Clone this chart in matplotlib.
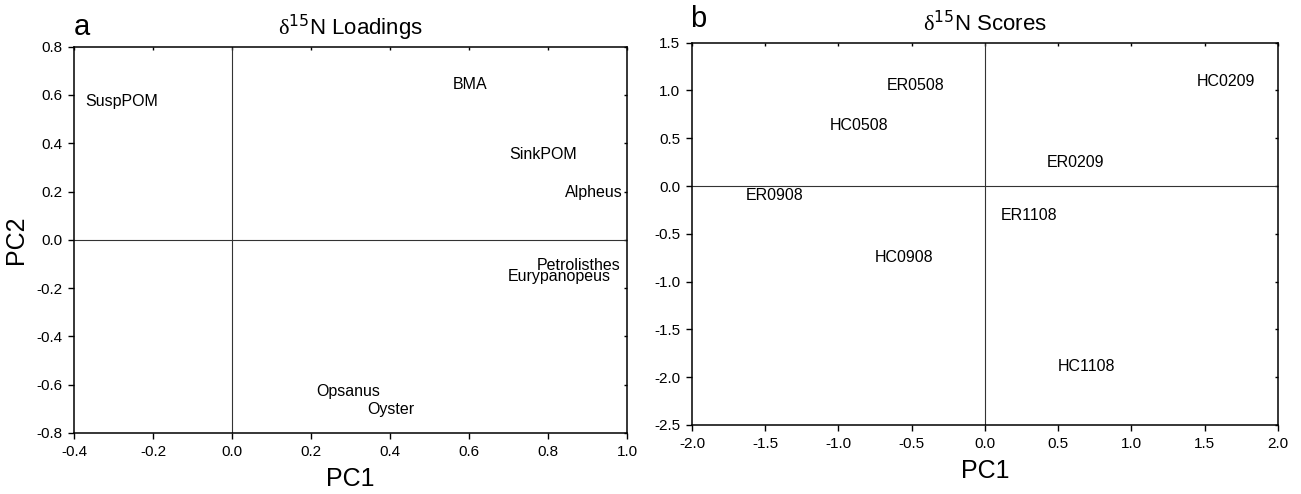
import matplotlib
matplotlib.use("Agg")
import matplotlib.pyplot as plt
from matplotlib.ticker import FormatStrFormatter

plt.rcParams['font.family'] = ['Liberation Sans', 'DejaVu Sans']
plt.rcParams['mathtext.fontset'] = 'custom'
plt.rcParams['mathtext.rm'] = 'Liberation Serif'

# loadings (panel a)
load_names = ['SuspPOM', 'BMA', 'SinkPOM', 'Alpheus', 'Petrolisthes',
              'Eurypanopeus', 'Opsanus', 'Oyster']
load_pc1 = [-0.279, 0.602, 0.787, 0.915, 0.878, 0.828, 0.293, 0.403]
load_pc2 = [0.572, 0.645, 0.354, 0.195, -0.108, -0.152, -0.628, -0.703]

# scores (panel b)
score_names = ['ER0508', 'HC0508', 'HC0209', 'ER0209', 'ER0908', 'ER1108',
               'HC0908', 'HC1108']
score_pc1 = [-0.476, -0.858, 1.643, 0.618, -1.433, 0.303, -0.55, 0.69]
score_pc2 = [1.056, 0.631, 1.098, 0.244, -0.094, -0.31, -0.747, -1.886]

load_xticks = [-0.4, -0.2, 0.0, 0.2, 0.4, 0.6, 0.8, 1.0]
load_yticks = [-0.8, -0.6, -0.4, -0.2, 0.0, 0.2, 0.4, 0.6, 0.8]
score_xticks = [-2.0, -1.5, -1.0, -0.5, 0.0, 0.5, 1.0, 1.5, 2.0]
score_yticks = [-2.5, -2.0, -1.5, -1.0, -0.5, 0.0, 0.5, 1.0, 1.5]

fig = plt.figure(figsize=(13.01, 4.94), dpi=100)
ax1 = fig.add_axes([0.0569, 0.1235, 0.4251, 0.782])
ax2 = fig.add_axes([0.5319, 0.1397, 0.4504, 0.7739])


def style(ax):
    for s in ax.spines.values():
        s.set_linewidth(1.1)
    ax.axhline(0, color='#333333', lw=0.8)
    ax.axvline(0, color='#333333', lw=0.8)
    ax.tick_params(direction='out', length=4, width=1.0, labelsize=11,
                   colors='black', pad=4.5)
    # faint inner ticks on top/right
    ax.tick_params(which='major', top=True, right=True, labeltop=False,
                   labelright=False)
    for t in ax.xaxis.get_major_ticks():
        t.tick2line.set_markersize(2.5)
        t.tick2line.set_color('#999999')
        t.tick2line.set_marker(3)
    for t in ax.yaxis.get_major_ticks():
        t.tick2line.set_markersize(2.5)
        t.tick2line.set_color('#999999')
        t.tick2line.set_marker(0)
    ax.xaxis.set_major_formatter(FormatStrFormatter('%.1f'))
    ax.yaxis.set_major_formatter(FormatStrFormatter('%.1f'))


for n, x, y in zip(load_names, load_pc1, load_pc2):
    ax1.text(x, y, n, ha='center', va='center', fontsize=11.5)
ax1.set_xlim(-0.4, 1.0)
ax1.set_ylim(-0.8, 0.8)
ax1.set_xticks(load_xticks)
ax1.set_yticks(load_yticks)
style(ax1)
ax1.set_xlabel('PC1', fontsize=18, labelpad=6)
ax1.set_ylabel('PC2', fontsize=18, labelpad=6)
ax1.set_title(r'$\mathrm{\delta}$$^{\mathsf{15}}$N Loadings', fontsize=16, pad=8)
ax1.text(0.0, 1.03, 'a', transform=ax1.transAxes, fontsize=21,
         ha='left', va='baseline')

for n, x, y in zip(score_names, score_pc1, score_pc2):
    ax2.text(x, y, n, ha='center', va='center', fontsize=11.5)
ax2.set_xlim(-2.0, 2.0)
ax2.set_ylim(-2.5, 1.5)
ax2.set_xticks(score_xticks)
ax2.set_yticks(score_yticks)
style(ax2)
ax2.set_xlabel('PC1', fontsize=18, labelpad=6)
ax2.set_title(r'$\mathrm{\delta}$$^{\mathsf{15}}$N Scores', fontsize=16, pad=8)
ax2.text(-0.003, 1.04, 'b', transform=ax2.transAxes, fontsize=21,
         ha='left', va='baseline')

fig.savefig('out.png', dpi=100)
